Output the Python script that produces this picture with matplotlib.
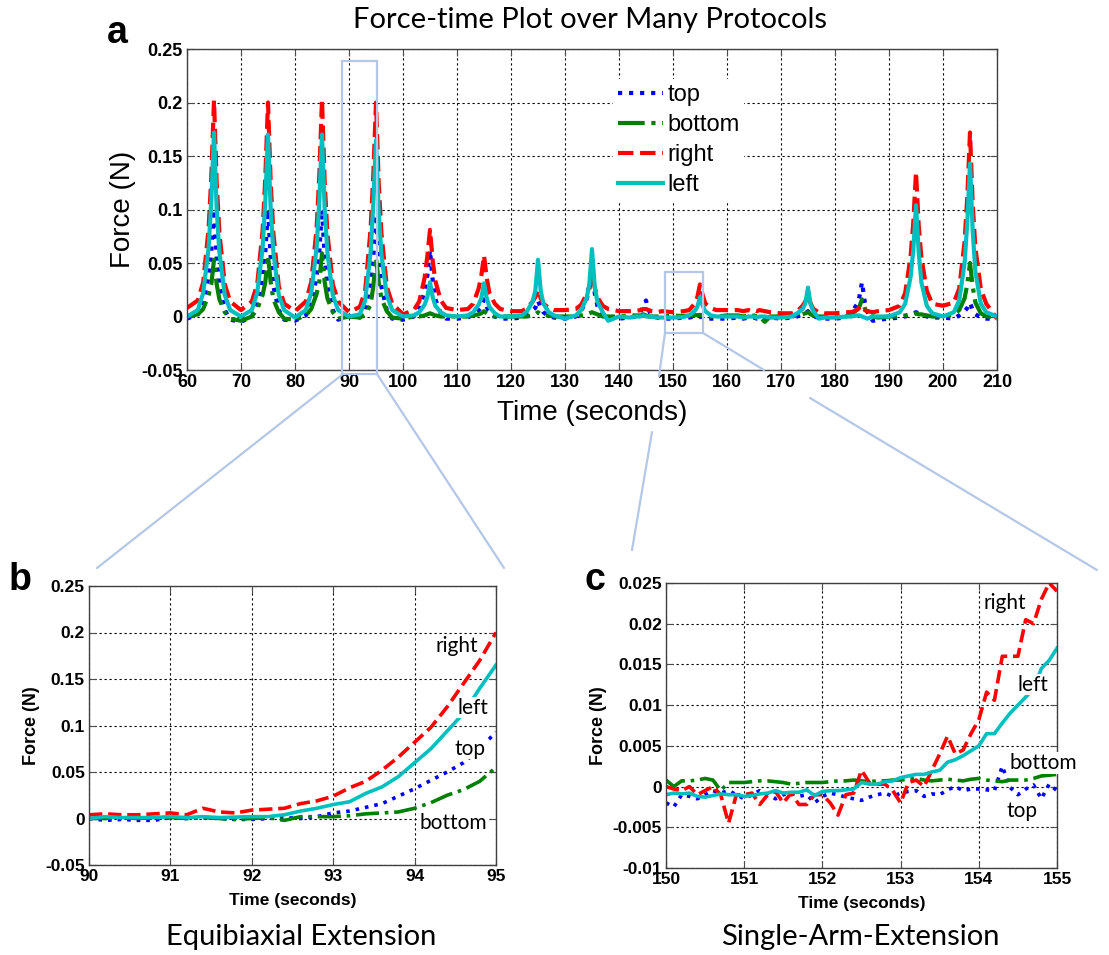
import numpy as np
import matplotlib
matplotlib.use("Agg")
import matplotlib.pyplot as plt
from matplotlib.patches import Rectangle, ConnectionPatch

plt.rcParams['font.family'] = ['Liberation Sans', 'DejaVu Sans']

# ---- panel a: protocol peaks, sampled at offsets around each protocol time ----
protocol_times = [65, 75, 85, 95, 105, 115, 125, 135, 145, 155, 165, 175, 185, 195, 205]
sample_offsets = [-5, -3, -2, -1, -0.5, 0, 0.5, 1, 2, 3]
end_time = 210

right_a = [
    [0.008, 0.015, 0.032, 0.082, 0.130, 0.202, 0.125, 0.078, 0.030, 0.014],
    [0.006, 0.014, 0.030, 0.080, 0.130, 0.200, 0.125, 0.078, 0.028, 0.012],
    [0.005, 0.014, 0.032, 0.082, 0.132, 0.203, 0.125, 0.078, 0.030, 0.014],
    [0.004, 0.009, 0.024, 0.082, 0.132, 0.200, 0.125, 0.078, 0.028, 0.012],
    [0.002, 0.006, 0.014, 0.036, 0.056, 0.081, 0.052, 0.033, 0.015, 0.008],
    [0.006, 0.007, 0.012, 0.026, 0.038, 0.057, 0.036, 0.022, 0.012, 0.007],
    [0.005, 0.005, 0.008, 0.014, 0.018, 0.025, 0.017, 0.012, 0.008, 0.006],
    [0.006, 0.007, 0.011, 0.021, 0.028, 0.040, 0.027, 0.018, 0.010, 0.007],
    [0.005, 0.005, 0.005, 0.006, 0.007, 0.007, 0.006, 0.005, 0.004, 0.005],
    [0.004, 0.005, 0.006, 0.012, 0.018, 0.030, 0.020, 0.012, 0.008, 0.006],
    [0.006, 0.006, 0.005, 0.006, 0.005, 0.006, 0.005, 0.006, 0.005, 0.004],
    [0.003, 0.003, 0.005, 0.010, 0.014, 0.020, 0.012, 0.007, 0.004, 0.003],
    [0.003, 0.004, 0.004, 0.006, 0.008, 0.010, 0.006, 0.005, 0.004, 0.005],
    [0.006, 0.010, 0.022, 0.056, 0.088, 0.135, 0.085, 0.055, 0.024, 0.012],
    [0.010, 0.013, 0.026, 0.070, 0.112, 0.172, 0.105, 0.064, 0.026, 0.012],
]
right_a_end = -0.002

left_a = [
    [0.000, 0.006, 0.022, 0.064, 0.108, 0.172, 0.100, 0.060, 0.020, 0.006],
    [0.000, 0.006, 0.022, 0.064, 0.108, 0.170, 0.100, 0.060, 0.020, 0.006],
    [-0.001, 0.006, 0.022, 0.064, 0.108, 0.170, 0.100, 0.060, 0.020, 0.006],
    [0.000, 0.002, 0.015, 0.060, 0.105, 0.165, 0.098, 0.058, 0.020, 0.006],
    [0.000, 0.001, 0.004, 0.011, 0.018, 0.032, 0.018, 0.010, 0.004, 0.001],
    [0.000, 0.001, 0.004, 0.011, 0.017, 0.031, 0.017, 0.009, 0.003, 0.000],
    [0.000, 0.001, 0.005, 0.014, 0.024, 0.053, 0.024, 0.012, 0.004, 0.001],
    [-0.002, 0.001, 0.006, 0.017, 0.030, 0.063, 0.028, 0.014, 0.004, -0.004],
    [0.000, -0.001, 0.000, 0.000, 0.001, 0.000, 0.000, 0.000, -0.001, -0.001],
    [-0.001, -0.0005, 0.0012, 0.005, 0.009, 0.018, 0.010, 0.005, 0.001, 0.000],
    [0.000, 0.000, -0.001, 0.000, 0.000, 0.000, -0.001, 0.000, 0.000, -0.001],
    [-0.001, 0.000, 0.003, 0.007, 0.012, 0.027, 0.011, 0.005, -0.002, -0.001],
    [-0.001, 0.000, 0.000, 0.001, 0.001, 0.000, -0.001, -0.002, 0.000, 0.000],
    [0.000, 0.004, 0.012, 0.037, 0.062, 0.104, 0.060, 0.032, 0.010, 0.003],
    [0.000, 0.004, 0.015, 0.050, 0.088, 0.143, 0.080, 0.042, 0.012, 0.004],
]
left_a_end = 0.0

top_a = [
    [-0.002, 0.002, 0.012, 0.037, 0.060, 0.100, 0.055, 0.028, 0.006, -0.003],
    [-0.005, 0.000, 0.011, 0.037, 0.060, 0.100, 0.055, 0.028, 0.006, -0.003],
    [-0.004, 0.001, 0.011, 0.037, 0.060, 0.100, 0.055, 0.028, 0.006, -0.003],
    [0.000, -0.001, 0.006, 0.032, 0.055, 0.095, 0.055, 0.028, 0.006, -0.002],
    [-0.003, 0.000, 0.007, 0.024, 0.038, 0.062, 0.034, 0.016, 0.003, -0.002],
    [-0.002, -0.001, 0.002, 0.006, 0.009, 0.016, 0.009, 0.004, 0.000, -0.002],
    [-0.002, -0.001, 0.002, 0.006, 0.008, 0.015, 0.008, 0.004, 0.000, -0.001],
    [-0.002, 0.000, 0.005, 0.016, 0.025, 0.045, 0.022, 0.010, 0.001, -0.002],
    [-0.002, -0.001, 0.000, 0.004, 0.010, 0.015, 0.006, 0.001, -0.001, -0.002],
    [-0.002, -0.001, -0.001, 0.000, -0.001, -0.0005, 0.000, -0.002, -0.002, -0.002],
    [-0.002, -0.001, -0.002, -0.001, -0.002, -0.001, -0.002, -0.001, -0.002, -0.001],
    [-0.002, -0.001, 0.000, 0.002, 0.003, 0.005, 0.002, 0.000, -0.001, -0.002],
    [-0.002, -0.001, 0.003, 0.011, 0.018, 0.032, 0.014, 0.004, -0.004, -0.003],
    [-0.002, -0.001, 0.000, 0.002, 0.003, 0.004, 0.003, 0.002, 0.000, -0.001],
    [-0.001, -0.002, 0.001, 0.005, 0.008, 0.013, 0.006, 0.002, -0.001, -0.002],
]
top_a_end = -0.002

bottom_a = [
    [0.000, 0.002, 0.007, 0.020, 0.030, 0.053, 0.030, 0.016, 0.004, -0.002],
    [-0.004, 0.000, 0.007, 0.020, 0.032, 0.057, 0.032, 0.016, 0.004, -0.002],
    [-0.003, 0.001, 0.007, 0.021, 0.033, 0.059, 0.032, 0.017, 0.004, -0.002],
    [0.000, -0.001, 0.002, 0.011, 0.028, 0.055, 0.032, 0.017, 0.005, -0.001],
    [-0.002, 0.000, 0.000, 0.001, 0.002, 0.003, 0.002, 0.001, 0.000, 0.000],
    [0.000, 0.000, 0.001, 0.002, 0.003, 0.005, 0.003, 0.001, 0.000, 0.000],
    [0.000, 0.000, 0.000, 0.001, 0.002, 0.004, 0.002, 0.001, 0.001, 0.000],
    [0.000, 0.000, 0.001, 0.002, 0.003, 0.004, 0.003, 0.002, 0.000, 0.000],
    [0.000, 0.001, 0.001, 0.001, 0.002, 0.001, 0.000, 0.000, 0.000, 0.000],
    [0.0008, 0.0005, 0.0008, 0.001, 0.0012, 0.0015, 0.001, 0.001, 0.000, 0.000],
    [0.001, 0.001, 0.000, 0.001, 0.000, 0.001, 0.000, 0.000, -0.005, 0.000],
    [0.000, 0.000, 0.001, 0.002, 0.003, 0.004, 0.002, 0.001, 0.000, 0.000],
    [0.000, 0.000, 0.002, 0.006, 0.009, 0.016, 0.008, 0.003, 0.000, -0.001],
    [0.000, 0.000, 0.001, 0.002, 0.002, 0.003, 0.002, 0.002, 0.001, 0.000],
    [0.000, 0.002, 0.006, 0.017, 0.030, 0.050, 0.028, 0.013, 0.003, 0.000],
]
bottom_a_end = 0.0

# ---- panel b: equibiaxial extension, 90-95 s ----
time_b = [90.0, 90.2, 90.4, 90.6, 90.8, 91.0, 91.2, 91.4, 91.6, 91.8, 92.0, 92.2, 92.4,
          92.6, 92.8, 93.0, 93.2, 93.4, 93.6, 93.8, 94.0, 94.2, 94.4, 94.6, 94.8, 95.0]
right_b = [0.004, 0.005, 0.004, 0.004, 0.005, 0.006, 0.004, 0.011, 0.007, 0.006, 0.009, 0.010, 0.011,
           0.016, 0.019, 0.024, 0.033, 0.040, 0.052, 0.066, 0.082, 0.098, 0.120, 0.145, 0.170, 0.200]
left_b = [0.000, 0.002, 0.001, 0.001, 0.001, 0.002, 0.001, 0.002, 0.001, 0.0015, 0.002, 0.002, 0.004,
          0.008, 0.011, 0.015, 0.018, 0.027, 0.034, 0.045, 0.060, 0.075, 0.094, 0.113, 0.140, 0.165]
top_b = [0.000, -0.002, -0.001, -0.002, -0.002, 0.001, 0.000, 0.001, 0.000, -0.001, -0.001, 0.000, 0.001,
         0.000, 0.002, 0.006, 0.008, 0.012, 0.016, 0.024, 0.032, 0.041, 0.050, 0.060, 0.075, 0.093]
bottom_b = [0.000, 0.000, 0.001, 0.000, 0.001, 0.001, 0.000, 0.001, 0.000, -0.001, 0.000, 0.001, -0.002,
            0.002, 0.002, 0.002, 0.003, 0.005, 0.006, 0.007, 0.011, 0.017, 0.025, 0.031, 0.040, 0.055]

# ---- panel c: single-arm extension, 150-155 s ----
time_c = [150.0, 150.1, 150.2, 150.3, 150.4, 150.5, 150.6, 150.7, 150.8, 150.9,
          151.0, 151.1, 151.2, 151.3, 151.4, 151.5, 151.6, 151.7, 151.8, 151.9,
          152.0, 152.1, 152.2, 152.3, 152.4, 152.5, 152.6, 152.7, 152.8, 152.9,
          153.0, 153.1, 153.2, 153.3, 153.4, 153.5, 153.6, 153.7, 153.8, 153.9,
          154.0, 154.1, 154.2, 154.3, 154.4, 154.5, 154.6, 154.7, 154.8, 154.9, 155.0]
right_c = [0.0, -0.0003, -0.0005, 0.0, -0.001, -0.0005, 0.0, -0.001, -0.0045, -0.001,
           -0.001, -0.0008, -0.0022, -0.001, -0.0006, -0.002, -0.0008, -0.0022, -0.0022, -0.001,
           -0.001, -0.002, -0.0035, -0.001, -0.0008, 0.002, 0.0005, 0.0003, 0.0003, -0.0005,
           -0.002, 0.0005, 0.0008, 0.0, 0.002, 0.004, 0.0062, 0.004, 0.0045, 0.0065,
           0.0082, 0.0116, 0.0106, 0.016, 0.016, 0.016, 0.0205, 0.020, 0.023, 0.025, 0.024]
left_c = [-0.001, -0.0008, -0.0009, -0.0008, -0.0012, -0.0013, -0.0011, -0.0009, -0.001, -0.001,
          -0.0012, -0.0011, -0.0009, -0.0008, -0.0005, -0.0008, -0.0007, -0.0007, -0.0004, -0.0011,
          -0.0006, -0.0005, -0.0005, -0.0004, -0.0003, 0.0005, 0.0003, 0.0003, 0.0006, 0.0007,
          0.0011, 0.0013, 0.0015, 0.0015, 0.0018, 0.002, 0.003, 0.0033, 0.0038, 0.0044,
          0.005, 0.0065, 0.0065, 0.0078, 0.009, 0.010, 0.011, 0.012, 0.0145, 0.0155, 0.017]
top_c = [-0.002, -0.0025, -0.001, -0.0012, -0.0015, -0.001, -0.0005, -0.0008, -0.0005, -0.001,
         -0.0015, -0.001, -0.0005, -0.001, -0.0015, -0.001, -0.0008, -0.0012, -0.001, -0.002,
         -0.0012, -0.0008, -0.001, -0.0013, -0.0015, -0.0017, -0.0013, -0.001, -0.0008, -0.0012,
         -0.0008, -0.0006, -0.0005, -0.0012, -0.0009, -0.001, -0.0004, 0.0, -0.0005, -0.0003,
         -0.0003, -0.0004, -0.0005, 0.0025, -0.0001, -0.001, -0.0003, 0.0002, -0.0015, 0.0003, -0.0005]
bottom_c = [0.0008, 0.0, 0.0007, 0.0007, 0.0008, 0.001, 0.0008, -0.0005, 0.0005, 0.0005,
            0.0005, 0.0006, 0.0007, 0.0007, 0.0006, 0.0005, 0.0003, 0.0004, 0.0005, 0.0005,
            0.0005, 0.0006, 0.0007, 0.0007, 0.0008, 0.0007, 0.0006, 0.0007, 0.0007, 0.0008,
            0.0008, 0.0009, 0.001, 0.0008, 0.0007, 0.0008, 0.0009, 0.0008, 0.0007, 0.0009,
            0.001, 0.0008, 0.0007, 0.0006, 0.0008, 0.0008, 0.0008, 0.001, 0.0013, 0.0014, 0.0015]

yticks_a = [-0.05, 0, 0.05, 0.1, 0.15, 0.2, 0.25]
ytick_labels_a = ['-0.05', '0', '0.05', '0.1', '0.15', '0.2', '0.25']
yticks_c = [-0.01, -0.005, 0, 0.005, 0.01, 0.015, 0.02, 0.025]
ytick_labels_c = ['-0.01', '-0.005', '0', '0.005', '0.01', '0.015', '0.02', '0.025']

series_names = ['top', 'bottom', 'right', 'left']
styles = {
    'top': dict(color=(0, 0, 1), linestyle=':'),
    'bottom': dict(color=(0, 0.5, 0), linestyle='-.'),
    'right': dict(color=(1, 0, 0), linestyle='--'),
    'left': dict(color=(0, 0.75, 0.75), linestyle='-'),
}

W, H = 1109, 955
fig = plt.figure(figsize=(W / 100, H / 100), dpi=100)


def fpx(x, y):
    return (x / W, 1 - y / H)


ax_a = fig.add_axes([187 / W, 1 - 370 / H, 810 / W, 321 / H])
ax_b = fig.add_axes([89 / W, 1 - 865 / H, 407 / W, 279 / H])
ax_c = fig.add_axes([666 / W, 1 - 868 / H, 391 / W, 285 / H])


def style_axes(ax, tick_size):
    ax.grid(True, color='k', linestyle=(0, (2, 2.5)), linewidth=0.8)
    ax.tick_params(direction='in', top=True, right=True, length=5, width=0.8,
                   labelsize=tick_size, color='0.3', pad=3)
    for s in ax.spines.values():
        s.set_color('0.25')
        s.set_linewidth(1.0)
    for lab in ax.get_xticklabels() + ax.get_yticklabels():
        lab.set_fontweight('bold')


# panel a
t_a = [T + o for T in protocol_times for o in sample_offsets] + [end_time]
data_a = {
    'top': [v for row in top_a for v in row] + [top_a_end],
    'bottom': [v for row in bottom_a for v in row] + [bottom_a_end],
    'right': [v for row in right_a for v in row] + [right_a_end],
    'left': [v for row in left_a for v in row] + [left_a_end],
}
for name in series_names:
    ax_a.plot(t_a, data_a[name], linewidth=3.0, label=name, **styles[name])
ax_a.set_xlim(60, 210)
ax_a.set_ylim(-0.05, 0.25)
ax_a.set_xticks(range(60, 211, 10))
ax_a.set_yticks(yticks_a)
ax_a.set_yticklabels(ytick_labels_a)
style_axes(ax_a, 13)
ax_a.set_xlabel('Time (seconds)', fontsize=20, labelpad=6)
ax_a.set_ylabel('Force (N)', fontsize=20, labelpad=4)
leg = ax_a.legend(loc='upper left', bbox_to_anchor=(0.526, 0.906), fontsize=17,
                  handlelength=1.9, handletextpad=0.2, labelspacing=0.34,
                  borderpad=0.2, borderaxespad=0, fancybox=False, framealpha=1.0)
leg.get_frame().set_edgecolor('white')
leg.get_frame().set_linewidth(0)

# panel b
data_b = {'top': top_b, 'bottom': bottom_b, 'right': right_b, 'left': left_b}
for name in series_names:
    ax_b.plot(time_b, data_b[name], linewidth=2.6, **styles[name])
ax_b.set_xlim(90, 95)
ax_b.set_ylim(-0.05, 0.25)
ax_b.set_xticks([90, 91, 92, 93, 94, 95])
ax_b.set_yticks(yticks_a)
ax_b.set_yticklabels(ytick_labels_a)
style_axes(ax_b, 12.5)
ax_b.set_xlabel('Time (seconds)', fontsize=12.5, fontweight='bold', labelpad=6)
ax_b.set_ylabel('Force (N)', fontsize=13, fontweight='bold', labelpad=4)

label_box = dict(facecolor='white', edgecolor='none', pad=0.5)
for txt, x, y in [('right', 94.52, 0.185), ('left', 94.72, 0.119),
                  ('top', 94.68, 0.075), ('bottom', 94.47, -0.005)]:
    ax_b.text(x, y, txt, fontsize=15, family='Lato', ha='center', va='center',
              bbox=label_box, zorder=5)

# panel c
data_c = {'top': top_c, 'bottom': bottom_c, 'right': right_c, 'left': left_c}
for name in series_names:
    ax_c.plot(time_c, data_c[name], linewidth=2.6, **styles[name])
ax_c.set_xlim(150, 155)
ax_c.set_ylim(-0.01, 0.025)
ax_c.set_xticks([150, 151, 152, 153, 154, 155])
ax_c.set_yticks(yticks_c)
ax_c.set_yticklabels(ytick_labels_c)
style_axes(ax_c, 12.5)
ax_c.set_xlabel('Time (seconds)', fontsize=12.5, fontweight='bold', labelpad=6)
ax_c.set_ylabel('Force (N)', fontsize=13, fontweight='bold', labelpad=4)
for txt, x, y in [('right', 154.33, 0.0225), ('left', 154.69, 0.0125),
                  ('bottom', 154.82, 0.0029), ('top', 154.55, -0.003)]:
    ax_c.text(x, y, txt, fontsize=15, family='Lato', ha='center', va='center',
              bbox=label_box, zorder=5)

# zoom boxes and connectors
zoom_col = '#b4c7e7'
ax_a.add_patch(Rectangle((88.7, -0.0537), 6.5, 0.2927, fill=False, edgecolor=zoom_col,
                         linewidth=1.6, clip_on=False, zorder=6))
ax_a.add_patch(Rectangle((148.5, -0.0154), 7.1, 0.057, fill=False, edgecolor=zoom_col,
                         linewidth=1.6, clip_on=False, zorder=6))
segments = [
    ((343, 374), (97, 568)),
    ((377, 374), (504, 568)),
    ((665, 333), (659, 376)),
    ((652, 432), (632, 550)),
    ((703, 333), (764, 370)),
    ((810, 398), (1097, 570)),
]
for p0, p1 in segments:
    fig.add_artist(ConnectionPatch(fpx(*p0), fpx(*p1), coordsA='figure fraction',
                                   coordsB='figure fraction', color=zoom_col, linewidth=1.6))

# titles and panel letters
fig.text(590 / W, 1 - 20 / H, 'Force-time Plot over Many Protocols', family='Lato',
         fontsize=21, ha='center', va='center')
fig.text(*fpx(301, 937), 'Equibiaxial Extension', family='Lato', fontsize=21,
         ha='center', va='center')
fig.text(*fpx(860, 937), 'Single-Arm-Extension', family='Lato', fontsize=21,
         ha='center', va='center')
for letter, x, y in [('a', 117, 33), ('b', 20, 580), ('c', 595, 580)]:
    fig.text(*fpx(x, y), letter, fontsize=27, fontweight='bold', ha='center', va='center')

fig.savefig('out.png', dpi=100)
